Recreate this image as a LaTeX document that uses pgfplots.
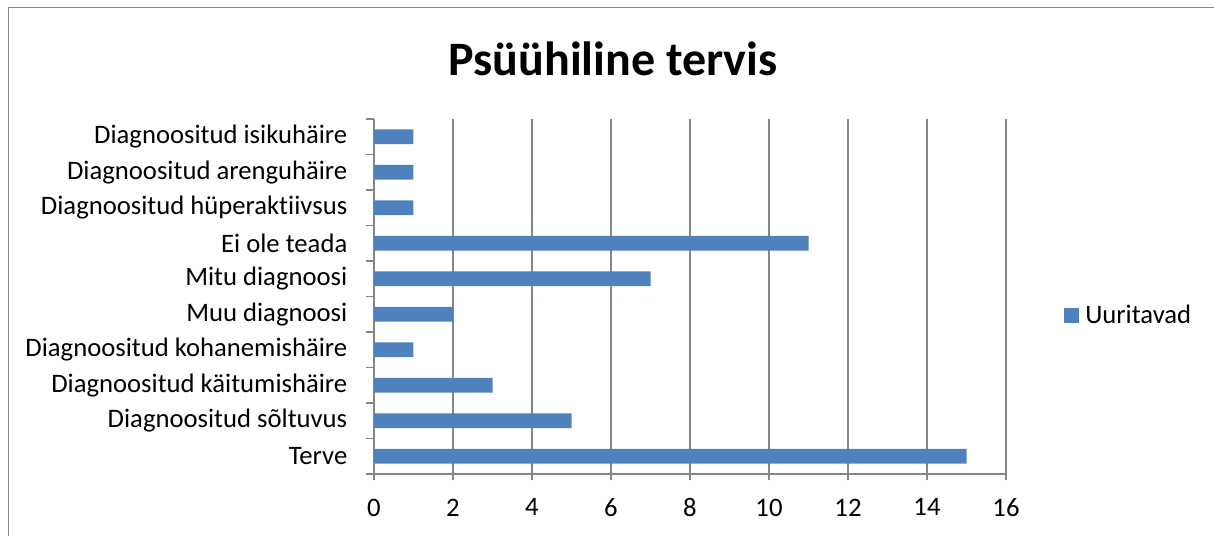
\documentclass[border=0pt]{standalone}
\usepackage{fontspec}
\setmainfont{Carlito}[Ligatures=NoCommon]
\usepackage{pgfplots}
\pgfplotsset{compat=1.18}
\definecolor{barblue}{HTML}{4F81BD}
\definecolor{gridgray}{HTML}{868686}
\begin{document}
\begin{tikzpicture}
\path[use as bounding box] (0,0) rectangle (910.5pt,-402pt);
\draw[gridgray, line width=1.2pt] (6.4pt,-402pt) -- (6.4pt,-5.6pt) -- (910.5pt,-5.6pt);
\node[font=\fontsize{36}{42}\selectfont\bfseries, anchor=base] at (459.75pt,-56.25pt) {Psüühiline tervis};
\begin{axis}[
  at={(280.5pt,-355.5pt)}, anchor=south west,
  scale only axis, width=474pt, height=266.25pt,
  xbar, bar width=10.9pt,
  xmin=0, xmax=16, ymin=-0.5, ymax=9.5,
  xtick={0,2,...,16},
  ytick={0,...,9},
  yticklabels={Terve,Diagnoositud sõltuvus,Diagnoositud käitumishäire,Diagnoositud kohanemishäire,Muu diagnoosi,Mitu diagnoosi,Ei ole teada,Diagnoositud hüperaktiivsus,Diagnoositud arenguhäire,Diagnoositud isikuhäire},
  minor ytick={-0.5,0.5,...,9.5},
  axis x line*=bottom, axis y line*=left,
  axis line style={gridgray, line width=1.2pt},
  xmajorgrids, grid style={gridgray, line width=1.2pt},
  major tick length=4.5pt, minor tick length=6pt,
  tick align=outside,
  major y tick style={draw=none},
  minor y tick style={draw=gridgray, line width=1.2pt},
  xtick style={gridgray, line width=1.2pt},
  /pgf/number format/assume math mode=true,
  tick label style={font=\fontsize{20}{24}\selectfont, text=black},
  xticklabel style={yshift=-10.5pt},
  yticklabel style={xshift=-12pt},
  legend style={draw=none, at={(1.0918,0.4465)}, anchor=west, inner sep=0pt, column sep=2.5pt, font=\fontsize{20}{24}\selectfont},
  legend image code/.code={\fill[barblue] (0pt,-5.6pt) rectangle (11.25pt,5.6pt);},
]
\addplot[fill=barblue, draw=none] coordinates {
(15,0) (5,1) (3,2) (1,3) (2,4) (7,5) (11,6) (1,7) (1,8) (1,9)};
\addlegendentry{Uuritavad}
\end{axis}
\end{tikzpicture}
\end{document}
